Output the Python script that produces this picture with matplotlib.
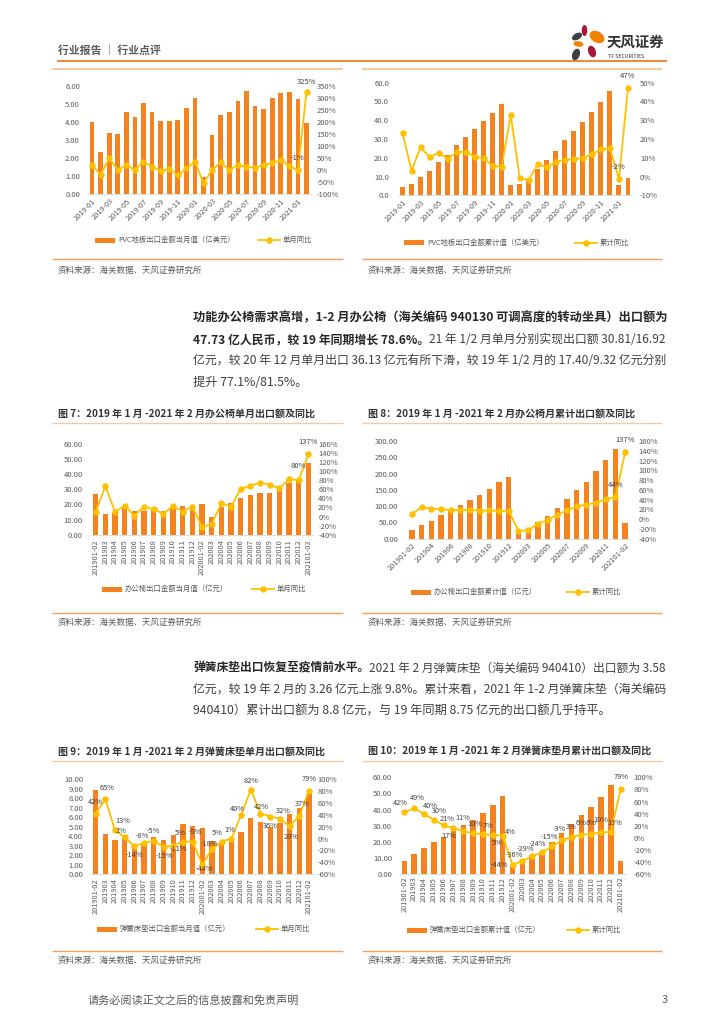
import matplotlib
matplotlib.use('Agg')
import matplotlib.pyplot as plt
from matplotlib.patches import Rectangle, Ellipse
import numpy as np

plt.rcParams['font.family'] = ['Noto Sans CJK SC', 'DejaVu Sans']
plt.rcParams['axes.unicode_minus'] = False

W, H = 724, 1024
ORANGE = '#F4831F'
GOLD = '#FFC000'
GRAY = '#595959'
DARK = '#404040'

# ---- data ----
# PVC floor, monthly 2019-01 .. 2021-02
pvc_months = [f'{y}-{m:02d}' for y in (2019, 2020, 2021) for m in range(1, 13)][:26]
pvc_month = [4.00, 2.32, 3.37, 3.33, 4.57, 4.25, 5.03, 4.53, 4.05, 4.05, 4.12, 4.77, 5.32,
             0.94, 3.28, 4.38, 4.53, 5.17, 5.71, 4.88, 4.71, 5.30, 5.58, 5.65, 5.27, 3.94]
pvc_month_yoy = [21, -20, 48, 1, 19, 0, 34, 13, -5, 5, -23, 6, 34,
                 -56, 1, 31, 0, 21, 13, 10, 20, 30, 40, 17, -2, 325]
pvc_cum = [4.3, 6.0, 9.6, 13.0, 17.8, 21.5, 26.6, 31.3, 35.3, 39.6, 43.9, 48.7, 5.3,
           6.0, 8.6, 14.2, 18.8, 23.8, 29.5, 34.3, 38.9, 44.2, 49.7, 55.6, 5.3, 9.4]
pvc_cum_yoy = [23.4, 3, 15.6, 10.4, 12.7, 9.4, 13.1, 13.1, 10.6, 9.7, 5.6, 5.3, 32.8,
               -0.9, -1.8, 6.7, 4.9, 7.8, 9.0, 9.2, 9.9, 11.8, 14.5, 15.0, -1.3, 47]

# office chair / mattress, 2019/01-02 .. 2021/01-02
periods = ['201901-02'] + [f'2019{m:02d}' for m in range(3, 13)] + \
          ['202001-02'] + [f'2020{m:02d}' for m in range(3, 13)] + ['202101-02']
chair_month = [26.7, 13.9, 14.5, 17.9, 15.5, 16.0, 16.8, 15.7, 18.1, 18.8, 19.0,
               20.1, 11.5, 18.1, 20.8, 24.3, 26.3, 27.9, 27.4, 30.5, 34.3, 35.6, 47.7]
chair_month_yoy = [10, 67, 11, 24, 2, 22, 16, 6, 23, 11, 22,
                   -23, -16, 29, 22, 61, 68, 75, 70, 62, 83, 80, 137]
chair_cum = [26.6, 41, 55, 72.7, 84, 103, 119, 134, 152.5, 173, 190,
             20.5, 32.8, 51, 69.6, 94, 122, 149, 175, 208, 240.5, 276, 48]
chair_cum_yoy = [10, 25, 21, 21, 18, 19, 19, 17, 18, 17, 17,
                 -24, -23, -9, -2, 9, 18, 26, 30, 34, 41, 45, 137]
bed_month = [8.8, 4.27, 3.64, 3.85, 3.15, 3.2, 3.88, 3.64, 4.09, 5.31, 5.03,
             4.86, 3.46, 3.15, 3.57, 4.48, 5.94, 5.45, 4.93, 5.38, 6.36, 6.96, 8.4]
bed_month_yoy = [42, 66, 14, 2, -13, -7, -4, -14, -12, -5, -5,
                 -44, -17, -5, 0, 39, 82, 42, 37, 33, 21, 38, 80]
bed_month_lbl = ['42%', '65%', '13%', '2%', '-14%', '-8%', '-5%', '-15%', '-11%', '5%', '-5%',
                 '-44%', '-18%', '5%', '1%', '40%', '82%', '42%', '36%', '32%', '20%', '37%', '79%']
bed_cum = [8.45, 12.4, 16.3, 20.0, 22.9, 26.6, 30.3, 33.8, 38.1, 43.1, 48.7,
           5.2, 8.7, 11.8, 13.4, 19.8, 25.6, 30.9, 36.5, 41.9, 48.0, 55.0, 8.45]
bed_cum_yoy = [42, 49, 39.5, 30, 21, 16, 11, 7.6, 6, 5, 4,
               -44.5, -38, -30, -24, -14, -4, 2, 5, 7, 9, 10, 80]
bed_cum_lbl = ['42%', '49%', '40%', '30%', '21%', '17%', '11%', '10%', '7%', '5%', '4%',
               '-44%', '-36%', '-29%', '-24%', '-15%', '-3%', '3%', '6%', '8%', '10%', '13%', '79%']

fig = plt.figure(figsize=(W / 100, H / 100), dpi=100)
bg = fig.add_axes([0, 0, 1, 1])
bg.set_xlim(0, W)
bg.set_ylim(H, 0)
bg.axis('off')
renderer = fig.canvas.get_renderer()


def px(x0, y0, x1, y1):
    return [x0 / W, 1 - y1 / H, (x1 - x0) / W, (y1 - y0) / H]


def hline(x0, x1, y, color, lw):
    bg.plot([x0, x1], [y, y], color=color, lw=lw, solid_capstyle='butt')


def combo(box, bars, rate, ylim, yticks, yfmt, y2lim, y2ticks, xlabels, tick_idx, rot,
          lpad, rpad, xpad, labels, lsize=5.5):
    ax = fig.add_axes(px(*box))
    x = np.arange(len(bars))
    ax.bar(x, bars, width=0.55, color=ORANGE, zorder=2)
    ax.set_xlim(-0.5, len(bars) - 0.5)
    ax.set_ylim(*ylim)
    ax.set_yticks(yticks)
    ax.set_yticklabels([yfmt.format(v) for v in yticks])
    ax.set_xticks(tick_idx)
    if rot == 45:
        ax.set_xticklabels([xlabels[i] for i in tick_idx], rotation=45, ha='right',
                           va='top', rotation_mode='anchor')
    else:
        ax.set_xticklabels([xlabels[i] for i in tick_idx], rotation=90, ha='center', va='top')
    ax.tick_params(axis='y', length=0, pad=lpad / 1.389, labelsize=5.5, labelcolor=GRAY)
    ax.tick_params(axis='x', length=0, pad=xpad / 1.389, labelsize=5.3, labelcolor=GRAY)
    for s in ('top', 'left', 'right'):
        ax.spines[s].set_visible(False)
    ax.spines['bottom'].set_color('#D9D9D9')
    ax.spines['bottom'].set_linewidth(0.6)
    ax.patch.set_alpha(0)

    ax2 = ax.twinx()
    ax2.plot(x, rate, color=GOLD, lw=1.3, marker='o', ms=3.6, zorder=3)
    ax2.set_ylim(*y2lim)
    ax2.set_yticks(y2ticks)
    ax2.set_yticklabels([f'{v}%' for v in y2ticks])
    ax2.tick_params(axis='y', length=0, pad=rpad / 1.389, labelsize=5.5, labelcolor=GRAY)
    for s in ax2.spines.values():
        s.set_visible(False)
    for i, t, dx, dy in labels:
        ax2.annotate(t, (x[i], rate[i]), xytext=(dx, -dy), textcoords='offset pixels',
                     ha='center', va='center', fontsize=lsize, color=DARK)
    return ax


def legend(xb, xl, y, lab1, lab2):
    bg.add_patch(Rectangle((xb, y - 2.5), 20, 5, color=ORANGE, lw=0))
    bg.text(xb + 23, y, lab1, fontsize=5.3, color=GRAY, va='center')
    bg.plot([xl, xl + 22], [y, y], color=GOLD, lw=1.3)
    bg.plot([xl + 11], [y], marker='o', ms=3.6, color=GOLD)
    bg.text(xl + 25, y, lab2, fontsize=5.3, color=GRAY, va='center')


def draw_parts(x, y, parts, size):
    texts = []
    for s, bold in parts:
        t = bg.text(x, y, s, fontsize=size, color='#262626' if bold else '#404040',
                    fontweight='bold' if bold else 'normal', va='center', ha='left')
        texts.append(t)
        x += t.get_window_extent(renderer).width
    return texts, x


def rich_line(x, y, parts, size=8.8, right=668, justify=True):
    texts, xe = draw_parts(x, y, parts, size)
    if justify:
        # scale the line so it ends at the right margin, like the justified page text
        for t in texts:
            t.remove()
        draw_parts(x, y, parts, size * (right - x) / (xe - x))


# ---- page header ----
bg.text(58, 50, '行业报告 ｜ 行业点评', fontsize=7.8, color=GRAY, fontweight='bold', va='center')
hline(57, 667, 60.7, '#E8731A', 1.2)
for cx, cy, w, h, a, c in [(584.5, 30.5, 5.5, 11, 0, '#A6173A'), (577, 36.5, 11, 6.5, -30, '#3F3F3F'),
                           (597, 37, 16, 11, 30, '#F08300'), (578.5, 44, 10, 5.5, 10, '#F08300'),
                           (592, 51.5, 7.5, 12, -20, '#A6173A'), (576, 54.5, 7.5, 12, 20, '#3F3F3F')]:
    bg.add_patch(Ellipse((cx, cy), w, h, angle=a, color=c, lw=0))
bg.text(607, 43, '天风证券', fontsize=10.4, color='#333333', fontweight='bold', va='center')
bg.text(608, 56.5, 'TF SECURITIES', fontsize=3.8, color='#333333', va='center')
hline(52, 343, 69, '#F9C8A0', 1.4)
hline(362, 662, 69, '#F9C8A0', 1.4)

# ---- top row ----
combo((87.7, 85.7, 310.8, 194), pvc_month, pvc_month_yoy, (0, 6), np.arange(0, 6.01, 1), '{:.2f}',
      (-100, 350), list(range(-100, 351, 50)), pvc_months, list(range(0, 26, 2)), 45,
      7.7, 6, 3, [(25, '325%', 0, -10), (24, '-1%', 0, -12)])
combo((398, 82.7, 632.5, 195.3), pvc_cum, pvc_cum_yoy, (0, 60), np.arange(0, 60.1, 10), '{:.1f}',
      (-10, 50), list(range(-10, 51, 10)), pvc_months, list(range(0, 26, 2)), 45,
      9, 7.5, 3, [(25, '47%', 0, -12), (24, '-2%', 0, -12)])
legend(95, 258, 240, 'PVC地板出口金额当月值（亿美元）', '单月同比')
legend(404, 575, 242.7, 'PVC地板出口金额累计值（亿美元）', '累计同比')
hline(52, 343, 259, '#F0A060', 1.0)
hline(362, 662, 259, '#F0A060', 1.0)
bg.text(58, 270, '资料来源：海关数据、天风证券研究所', fontsize=6.1, color=GRAY, va='center')
bg.text(368, 270, '资料来源：海关数据、天风证券研究所', fontsize=6.1, color=GRAY, va='center')

# ---- paragraph 1 ----
rich_line(193, 318, [('功能办公椅需求高增，1-2 月办公椅（海关编码 940130 可调高度的转动坐具）出口额为', True)])
rich_line(193, 339.5, [('47.73 亿人民币，较 19 年同期增长 78.6%。', True),
                       ('21 年 1/2 月单月分别实现出口额 30.81/16.92', False)])
rich_line(193, 361, [('亿元，较 20 年 12 月单月出口 36.13 亿元有所下滑，较 19 年 1/2 月的 17.40/9.32 亿元分别', False)])
rich_line(193, 382.5, [('提升 77.1%/81.5%。', False)], justify=False)

# ---- middle row ----
bg.text(58, 414, '图 7：2019 年 1 月 -2021 年 2 月办公椅单月出口额及同比', fontsize=7.2,
        color='#333333', fontweight='bold', va='center')
bg.text(368, 414, '图 8：2019 年 1 月 -2021 年 2 月办公椅月累计出口额及同比', fontsize=7.2,
        color='#333333', fontweight='bold', va='center')
hline(52, 343, 422.7, '#F9C8A0', 1.0)
hline(362, 662, 422.7, '#F9C8A0', 1.0)
combo((90.8, 444, 313.2, 534.7), chair_month, chair_month_yoy, (0, 60), np.arange(0, 60.1, 10),
      '{:.2f}', (-40, 160), list(range(-40, 161, 20)), periods, list(range(23)), 90,
      8, 5, 5, [(22, '137%', 0, -12), (21, '80%', 0, -14)])
combo((407, 441, 630, 538.7), chair_cum, chair_cum_yoy, (0, 300), np.arange(0, 300.1, 50),
      '{:.2f}', (-40, 160), list(range(-40, 161, 20)), periods, list(range(0, 23, 2)), 45,
      9, 8.7, 3, [(22, '137%', 0, -12), (21, '44%', 0, -12)])
legend(102, 252, 589, '办公椅出口金额当月值（亿元）', '单月同比')
legend(411, 567, 592.3, '办公椅出口金额累计值（亿元）', '累计同比')
hline(52, 343, 613, '#F0A060', 1.0)
hline(362, 662, 613, '#F0A060', 1.0)
bg.text(58, 622, '资料来源：海关数据、天风证券研究所', fontsize=6.1, color=GRAY, va='center')
bg.text(368, 622, '资料来源：海关数据、天风证券研究所', fontsize=6.1, color=GRAY, va='center')

# ---- paragraph 2 ----
rich_line(193, 668, [('弹簧床垫出口恢复至疫情前水平。', True),
                     ('2021 年 2 月弹簧床垫（海关编码 940410）出口额为 3.58', False)])
rich_line(193, 689.5, [('亿元，较 19 年 2 月的 3.26 亿元上涨 9.8%。累计来看，2021 年 1-2 月弹簧床垫（海关编码', False)])
rich_line(193, 711, [('940410）累计出口额为 8.8 亿元，与 19 年同期 8.75 亿元的出口额几乎持平。', False)],
          justify=False)

# ---- bottom row ----
bg.text(58, 752, '图 9：2019 年 1 月 -2021 年 2 月弹簧床垫单月出口额及同比', fontsize=7.2,
        color='#333333', fontweight='bold', va='center')
bg.text(368, 751, '图 10：2019 年 1 月 -2021 年 2 月弹簧床垫月累计出口额及同比', fontsize=7.2,
        color='#333333', fontweight='bold', va='center')
hline(52, 343, 760.7, '#F9C8A0', 1.0)
hline(362, 662, 760.7, '#F9C8A0', 1.0)

off9 = [(0, -12), (2, -11), (8, -9), (-4, -6), (0, 9), (-2, -7), (0, -10), (1, 9), (5, 3), (-3, -9),
        (3, -10), (2, 4), (-3, -5), (-4, -9), (-2, -9), (-4, -6), (0, -9), (1, -7), (0, 9), (3, -8),
        (2, 11), (3, -12), (0, -12)]
off10 = [(-4, -9), (3, -10), (6, -8), (5, -9), (3, -6), (-5, 8), (0, -13), (2, -9), (5, -8), (4, 8),
         (8, -3), (-13, 0), (-8, -6), (-7, -7), (-5, -8), (-2, -9), (-2, -11), (0, -10), (0, -12),
         (0, -11), (0, -12), (4, -9), (0, -12)]
combo((90.8, 779, 313.8, 874.3), bed_month, bed_month_yoy, (0, 10), np.arange(0, 10.01, 1),
      '{:.2f}', (-60, 100), list(range(-60, 101, 20)), periods, list(range(23)), 90,
      7.5, 4, 4, [(i, bed_month_lbl[i], dx, dy) for i, (dx, dy) in enumerate(off9)], lsize=5.3)
combo((399.4, 777.3, 625.6, 874.3), bed_cum, bed_cum_yoy, (0, 60), np.arange(0, 60.1, 10),
      '{:.2f}', (-60, 100), list(range(-60, 101, 20)), periods, list(range(23)), 90,
      7.4, 8, 2.5, [(i, bed_cum_lbl[i], dx, dy) for i, (dx, dy) in enumerate(off10)], lsize=5.3)
legend(97, 256, 929, '弹簧床垫出口金额当月值（亿元）', '单月同比')
legend(407, 567, 930, '弹簧床垫出口金额累计值（亿元）', '累计同比')
hline(52, 343, 950.7, '#F0A060', 1.0)
hline(362, 662, 950.7, '#F0A060', 1.0)
bg.text(58, 960.7, '资料来源：海关数据、天风证券研究所', fontsize=6.1, color=GRAY, va='center')
bg.text(368, 960.7, '资料来源：海关数据、天风证券研究所', fontsize=6.1, color=GRAY, va='center')

# ---- footer ----
bg.text(88, 1000, '请务必阅读正文之后的信息披露和免责声明', fontsize=8, color=GRAY, va='center')
bg.text(662, 1000, '3', fontsize=8, color=GRAY, va='center')

fig.savefig('out.png', dpi=100)
